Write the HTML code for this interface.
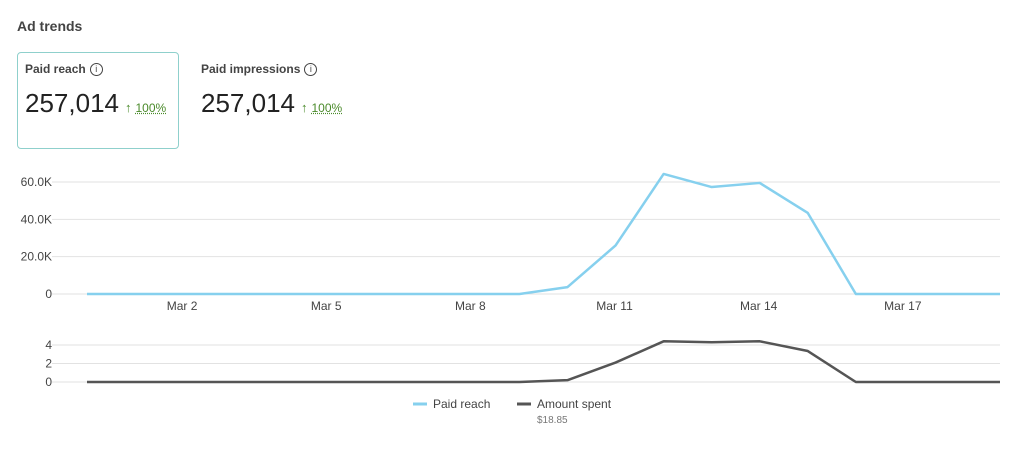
<!DOCTYPE html>
<html><head><meta charset="utf-8"><style>
body{margin:0;width:1024px;height:451px;background:#fff;font-family:"Liberation Sans",sans-serif;overflow:hidden;position:relative;color:#333}
.abs{position:absolute;white-space:nowrap}
.lbl{font-size:12px;color:#444;font-weight:bold}
.info{display:inline-block;width:11px;height:11px;border:1px solid #444;border-radius:50%;font-size:9px;text-align:center;line-height:11px;margin-left:4px;vertical-align:1px;font-weight:normal}
.num{font-size:26px;color:#222}
.pct{font-size:12px;color:#4a8a2a;text-decoration:underline dotted;margin-left:4px}
.arr{font-size:13px;color:#4a8a2a;margin-left:6px}
</style></head><body>
<div class="abs" style="left:17px;top:18px;font-size:14px;font-weight:bold;color:#444">Ad trends</div>
<div class="abs" style="left:17px;top:52px;width:162px;height:97px;border:1px solid #8fd0cc;border-radius:4px;box-sizing:border-box"></div>
<div class="abs lbl" style="left:25px;top:62px">Paid reach<span class="info">i</span></div>
<div class="abs" style="left:25px;top:88px"><span class="num">257,014</span><span class="arr">↑</span><span class="pct">100%</span></div>
<div class="abs lbl" style="left:201px;top:62px">Paid impressions<span class="info">i</span></div>
<div class="abs" style="left:201px;top:88px"><span class="num">257,014</span><span class="arr">↑</span><span class="pct">100%</span></div>
<svg id="chart" width="1024" height="451" style="position:absolute;left:0;top:0"></svg>
<script>
const days=["Mar 1","Mar 2","Mar 3","Mar 4","Mar 5","Mar 6","Mar 7","Mar 8","Mar 9","Mar 10","Mar 11","Mar 12","Mar 13","Mar 14","Mar 15","Mar 16","Mar 17","Mar 18","Mar 19","Mar 20"];
const reach=[0,0,0,0,0,0,0,0,0,0,3700,26000,64300,57300,59500,43400,0,0,0,0];
const spent=[0,0,0,0,0,0,0,0,0,0,0.2,2.1,4.4,4.3,4.4,3.35,0,0,0,0];
const reachTicks=[0,20000,40000,60000];
const reachTickLabels=["0","20.0K","40.0K","60.0K"];
const spentTicks=[0,2,4];
const xTickIdx=[1,4,7,10,13,16,19];
const NS="http://www.w3.org/2000/svg";
const svg=document.getElementById('chart');
const x=i=>87+i*(1000-87)/(days.length-1);
const yR=v=>294-v*(112/60000);
const yS=v=>382-v*(37/4);
function mk(t,a){const e=document.createElementNS(NS,t);for(const k in a)e.setAttribute(k,a[k]);svg.appendChild(e);return e;}
reachTicks.forEach((t,i)=>{
 const g=mk('line',{x1:52,x2:1000,y1:yR(t),y2:yR(t),stroke:'#e2e2e2'});
 
 
 const l=mk('text',{x:52,y:yR(t)+4,'text-anchor':'end','font-size':12,fill:'#444'});
 l.textContent=reachTickLabels[i];
 
 
});
spentTicks.forEach(t=>{
 const g=mk('line',{x1:52,x2:1000,y1:yS(t),y2:yS(t),stroke:'#e2e2e2'});
 
 
 const l=mk('text',{x:52,y:yS(t)+4,'text-anchor':'end','font-size':12,fill:'#444'});
 l.textContent=String(t);
 
 
});
xTickIdx.forEach(i=>{
 const l=mk('text',{x:x(i)+47,y:310,'text-anchor':'middle','font-size':12,fill:'#444'});
 l.textContent=days[i];
 
 
});
const p1=mk('polyline',{points:reach.map((v,i)=>x(i)+','+yR(v)).join(' '),fill:'none',stroke:'#86d0ee','stroke-width':2.5,'stroke-linejoin':'round'});


const p2=mk('polyline',{points:spent.map((v,i)=>x(i)+','+yS(v)).join(' '),fill:'none',stroke:'#555','stroke-width':2.5,'stroke-linejoin':'round'});


const s1=mk('line',{x1:413,x2:427,y1:404,y2:404,stroke:'#86d0ee','stroke-width':3});


const t1=mk('text',{x:433,y:408,'font-size':12,fill:'#444'});t1.textContent='Paid reach';


const s2=mk('line',{x1:517,x2:531,y1:404,y2:404,stroke:'#555','stroke-width':3});


const t2=mk('text',{x:537,y:408,'font-size':12,fill:'#444'});t2.textContent='Amount spent';


const t3=mk('text',{x:537,y:423,'font-size':10,fill:'#777'});t3.textContent='$18.85';


</script>
</body></html>
